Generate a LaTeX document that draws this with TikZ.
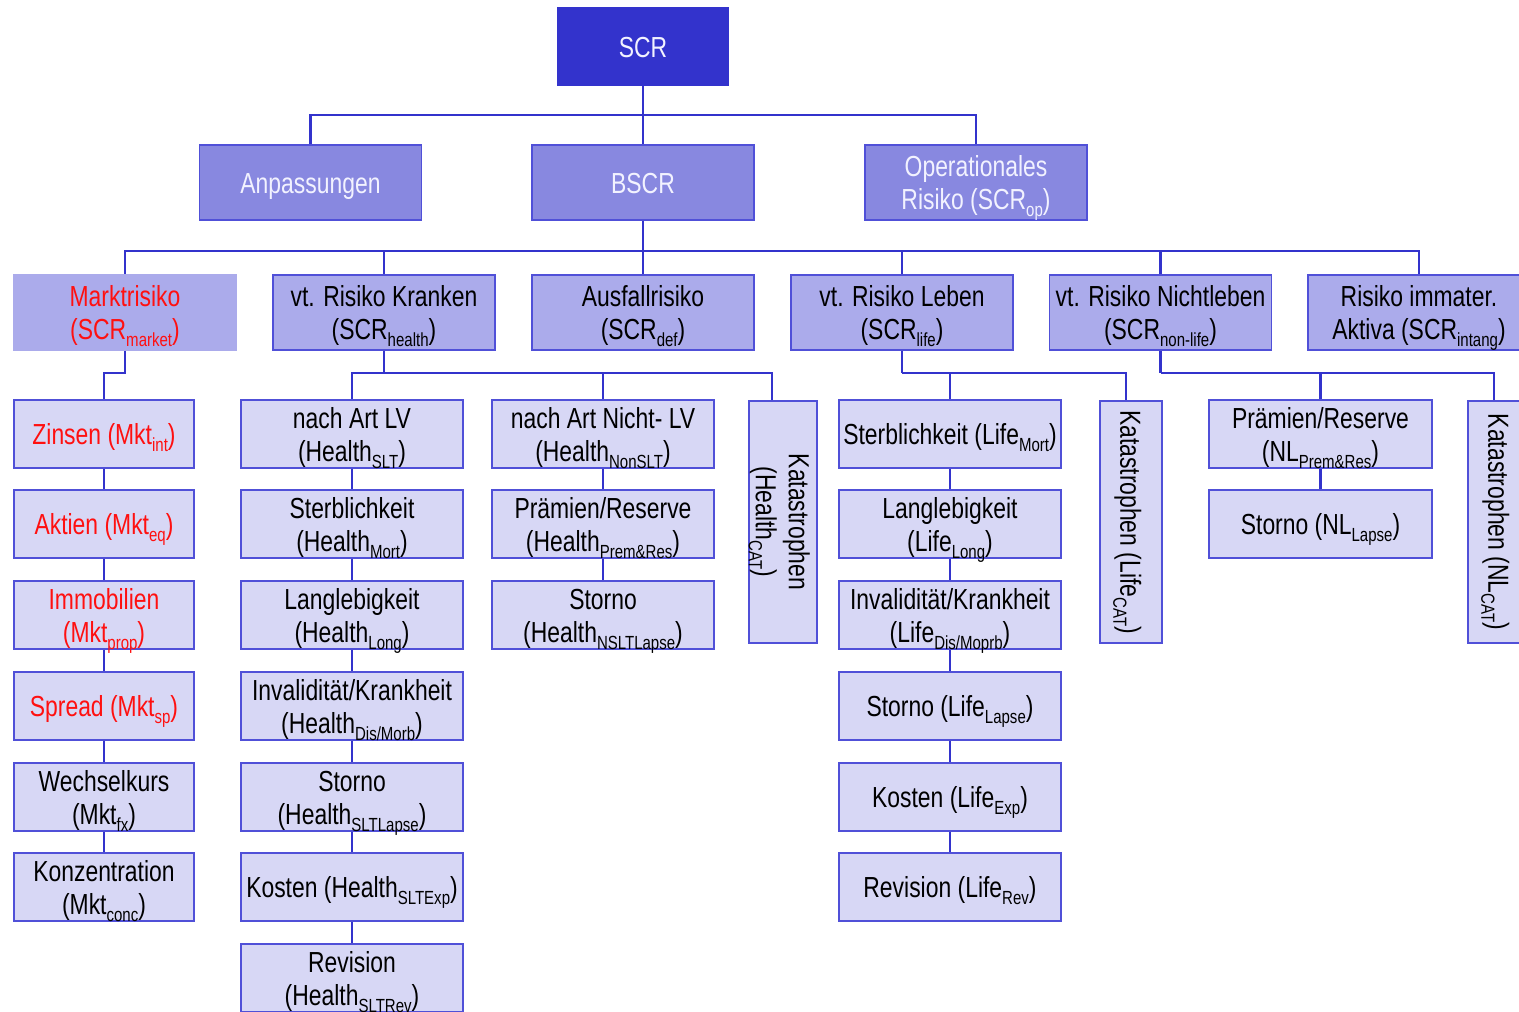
\documentclass[tikz,border=0pt]{standalone}
\usepackage{fontspec}
\setmainfont{Liberation Sans}[FakeStretch=0.79]
\newcommand{\lsub}[1]{\raisebox{-7pt}[0pt][0pt]{\fontsize{19}{19}\selectfont #1}}
\newcommand{\fst}{\rule{0pt}{28pt}}
\newcommand{\lst}{\rule[-6.5pt]{0pt}{6.5pt}}
\definecolor{cone}{HTML}{3333CC}
\definecolor{ctwo}{HTML}{8888E0}
\definecolor{cthree}{HTML}{ABABEB}
\definecolor{cfour}{HTML}{D7D7F5}
\definecolor{bord}{HTML}{5050D8}
\definecolor{lc}{HTML}{3333CC}
\definecolor{txtw}{HTML}{F2F2FF}
\definecolor{mred}{HTML}{FF1010}
\begin{document}
\begin{tikzpicture}[x=1pt,y=-1pt,
  box/.style={draw=bord, line width=1.8pt, align=center, inner sep=0pt,
    font=\fontsize{29}{33}\selectfont},
  lone/.style={box, fill=cone, draw=cone, text=txtw, minimum width=171pt, minimum height=77pt},
  ltwo/.style={box, fill=ctwo, text=txtw, minimum width=222pt, minimum height=75pt},
  lthree/.style={box, fill=cthree, minimum width=222pt, minimum height=75pt},
  lfour/.style={box, fill=cfour, minimum width=222pt, minimum height=68pt},
  mk/.style={lfour, minimum width=180pt, text=mred},
  mkb/.style={lfour, minimum width=180pt},
  vbox/.style={box, fill=cfour, rotate=-90, minimum width=242pt, minimum height=62pt},
  conn/.style={draw=lc, line width=2.6pt, line join=miter}]
\clip (0,0) rectangle (1519,1012);
\fill[white] (0,0) rectangle (1519,1012);

% level 1 and 2
\node[lone] (scr) at (643,46.5) {\fst SCR\lst};
\node[ltwo] (anp) at (310.5,182.5) {\fst Anpassungen\lst};
\node[ltwo] (bscr) at (643,182.5) {\fst BSCR\lst};
\node[ltwo] (op) at (976,182.5) {\fst Operationales\\Risiko (SCR\lsub{op})\lst};

% level 3
\node[lthree, draw=cthree, text=mred] (markt) at (125,312.5) {\fst Marktrisiko\\(SCR\lsub{market})\lst};
\node[lthree] (kr) at (384,312.5) {\fst vt. Risiko Kranken\\(SCR\lsub{health})\lst};
\node[lthree] (aus) at (643,312.5) {\fst Ausfallrisiko\\(SCR\lsub{def})\lst};
\node[lthree] (leb) at (902,312.5) {\fst vt. Risiko Leben\\(SCR\lsub{life})\lst};
\node[lthree] (nl) at (1160.5,312.5) {\fst vt. Risiko Nichtleben\\(SCR\lsub{non-life})\lst};
\node[lthree] (imm) at (1419,312.5) {\fst Risiko immater.\\Aktiva (SCR\lsub{intang})\lst};

% market column
\node[mk] (m1) at (104,434) {\fst Zinsen (Mkt\lsub{int})\lst};
\node[mk] (m2) at (104,524) {\fst Aktien (Mkt\lsub{eq})\lst};
\node[mk] (m3) at (104,615) {\fst Immobilien\\(Mkt\lsub{prop})\lst};
\node[mk] (m4) at (104,706) {\fst Spread (Mkt\lsub{sp})\lst};
\node[mkb] (m5) at (104,797) {\fst Wechselkurs\\(Mkt\lsub{fx})\lst};
\node[mkb] (m6) at (104,887) {\fst Konzentration\\(Mkt\lsub{conc})\lst};

% health column 1
\node[lfour] (ha1) at (352,434) {\fst nach Art LV\\(Health\lsub{SLT})\lst};
\node[lfour] (ha2) at (352,524) {\fst Sterblichkeit\\(Health\lsub{Mort})\lst};
\node[lfour] (ha3) at (352,615) {\fst Langlebigkeit\\(Health\lsub{Long})\lst};
\node[lfour] (ha4) at (352,706) {\fst Invalidität/Krankheit\\(Health\lsub{Dis/Morb})\lst};
\node[lfour] (ha5) at (352,797) {\fst Storno\\(Health\lsub{SLTLapse})\lst};
\node[lfour] (ha6) at (352,887) {\fst Kosten (Health\lsub{SLTExp})\lst};
\node[lfour] (ha7) at (352,978) {\fst Revision\\(Health\lsub{SLTRev})\lst};

% health column 2
\node[lfour] (hb1) at (603,434) {\fst nach Art Nicht- LV\\(Health\lsub{NonSLT})\lst};
\node[lfour] (hb2) at (603,524) {\fst Prämien/Reserve\\(Health\lsub{Prem\&Res})\lst};
\node[lfour] (hb3) at (603,615) {\fst Storno\\(Health\lsub{NSLTLapse})\lst};
\node[vbox] (hcat) at (783,522) {\fst Katastrophen\\(Health\lsub{CAT})\lst};

% life column
\node[lfour] (l1) at (950,434) {\fst Sterblichkeit (Life\lsub{Mort})\lst};
\node[lfour] (l2) at (950,524) {\fst Langlebigkeit\\(Life\lsub{Long})\lst};
\node[lfour] (l3) at (950,615) {\fst Invalidität/Krankheit\\(Life\lsub{Dis/Moprb})\lst};
\node[lfour] (l4) at (950,706) {\fst Storno (Life\lsub{Lapse})\lst};
\node[lfour] (l5) at (950,797) {\fst Kosten (Life\lsub{Exp})\lst};
\node[lfour] (l6) at (950,887) {\fst Revision (Life\lsub{Rev})\lst};
\node[vbox] (lcat) at (1131,522) {\fst Katastrophen (Life\lsub{CAT})\lst};

% non-life column
\node[lfour, minimum width=223pt] (n1) at (1320.5,434) {\fst Prämien/Reserve\\(NL\lsub{Prem\&Res})\lst};
\node[lfour, minimum width=223pt] (n2) at (1320.5,524) {\fst Storno (NL\lsub{Lapse})\lst};
\node[vbox] (ncat) at (1499,522) {\fst Katastrophen (NL\lsub{CAT})\lst};

% connectors level 1 -> 2
\coordinate (b1) at (643,115);
\draw[conn] (scr.south) -- (b1);
\draw[conn] (b1) -| (anp.north);
\draw[conn] (b1) -- (bscr.north);
\draw[conn] (b1) -| (op.north);

% connectors level 2 -> 3
\coordinate (b2) at (643,251);
\draw[conn] (bscr.south) -- (b2);
\draw[conn] (b2) -| (markt.north);
\draw[conn] (b2) -| (kr.north);
\draw[conn] (b2) -- (aus.north);
\draw[conn] (b2) -| (leb.north);
\draw[conn] (b2) -| (nl.north);
\draw[conn] (b2) -| (imm.north);

% market
\coordinate (bm) at (125,373);
\draw[conn] (markt.south) -- (bm) -| (m1.north);
\draw[conn] (m1) -- (m2);
\draw[conn] (m2) -- (m3);
\draw[conn] (m3) -- (m4);
\draw[conn] (m4) -- (m5);
\draw[conn] (m5) -- (m6);

% health
\coordinate (bh) at (384,373);
\coordinate (bhc) at (772,373);
\draw[conn] (kr.south) -- (bh);
\draw[conn] (bh) -| (ha1.north);
\draw[conn] (bh) -| (hb1.north);
\draw[conn] (bh) -- (bhc) -- (bhc |- hcat.west);
\draw[conn] (ha1) -- (ha2);
\draw[conn] (ha2) -- (ha3);
\draw[conn] (ha3) -- (ha4);
\draw[conn] (ha4) -- (ha5);
\draw[conn] (ha5) -- (ha6);
\draw[conn] (ha6) -- (ha7);
\draw[conn] (hb1) -- (hb2);
\draw[conn] (hb2) -- (hb3);

% life
\coordinate (bl) at (902,373);
\coordinate (blc) at (1126,373);
\draw[conn] (leb.south) -- (bl);
\draw[conn] (bl) -| (l1.north);
\draw[conn] (bl) -- (blc) -- (blc |- lcat.west);
\draw[conn] (l1) -- (l2);
\draw[conn] (l2) -- (l3);
\draw[conn] (l3) -- (l4);
\draw[conn] (l4) -- (l5);
\draw[conn] (l5) -- (l6);

% non-life
\coordinate (bn) at (1160.5,373);
\coordinate (bnc) at (1494,373);
\draw[conn] (nl.south) -- (bn);
\draw[conn] (bn) -| (n1.north);
\draw[conn] (bn) -- (bnc) -- (bnc |- ncat.west);
\draw[conn] (n1) -- (n2);
\end{tikzpicture}
\end{document}
